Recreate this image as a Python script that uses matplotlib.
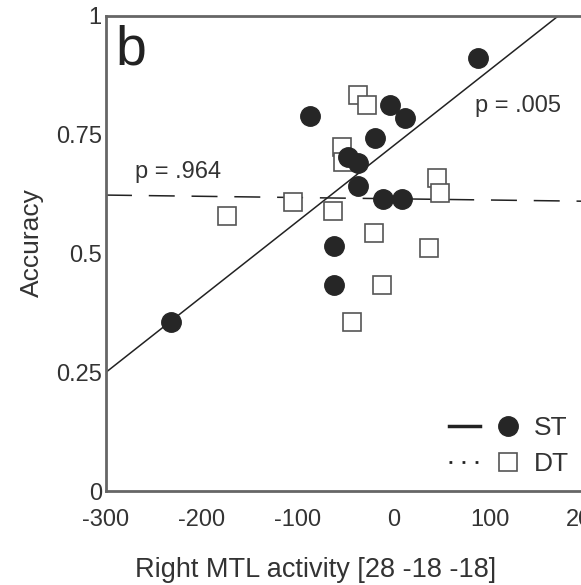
import matplotlib
matplotlib.use("Agg")
import matplotlib.pyplot as plt
from matplotlib.lines import Line2D
from matplotlib.legend_handler import HandlerTuple

plt.rcParams["font.family"] = ["Liberation Sans", "DejaVu Sans"]
plt.rcParams["axes.unicode_minus"] = False

# single task (ST) subjects: filled circles
st_x = [-232, 88, -87, -4, 11, -20, -48, -38, -38, -11, 8, -63, -63]
st_y = [0.356, 0.912, 0.79, 0.812, 0.785, 0.744, 0.704, 0.69, 0.643, 0.614, 0.614, 0.516, 0.434]

# dual task (DT) subjects: open squares
dt_x = [-174, -105, -64, -37, -28, -54, -53, -21, 36, -12, -44, 45, 48]
dt_y = [0.579, 0.608, 0.59, 0.834, 0.813, 0.724, 0.693, 0.543, 0.511, 0.434, 0.356, 0.66, 0.627]

# regression lines (end points)
st_fit_x = [-300, 171]
st_fit_y = [0.25, 1.0]
dt_fit_x = [-300, 200]
dt_fit_y = [0.623, 0.610]

x_ticks = [-300, -200, -100, 0, 100, 200]
y_ticks = [0, 0.25, 0.5, 0.75, 1]
y_ticklabels = ["0", "0.25", "0.5", "0.75", "1"]

text_col = "#333333"
spine_col = "#666666"
dot_col = "#262626"

W, H = 581, 585
fig = plt.figure(figsize=(W / 100, H / 100), dpi=100)
ax = fig.add_axes([106 / W, 94 / H, (586 - 106) / W, (491 - 16) / H])

ax.plot(st_fit_x, st_fit_y, color="#222222", lw=1.1, zorder=2)
ax.plot(dt_fit_x, dt_fit_y, color="#222222", lw=1.1, dashes=(17, 11), zorder=2)

ax.plot(dt_x, dt_y, ls="none", marker="s", ms=12.5, mfc="white", mec="#555555",
        mew=1.2, zorder=3)
ax.plot(st_x, st_y, ls="none", marker="o", ms=14, mfc=dot_col, mec=dot_col,
        zorder=4)

ax.set_xlim(-300, 200)
ax.set_ylim(0, 1)
ax.set_xticks(x_ticks)
ax.set_yticks(y_ticks)
ax.set_yticklabels(y_ticklabels)
ax.tick_params(length=0, labelsize=17, colors=text_col)
ax.tick_params(axis="x", pad=13)
ax.tick_params(axis="y", pad=3)

for s in ["left", "top", "bottom"]:
    ax.spines[s].set_color(spine_col)
    ax.spines[s].set_linewidth(2)
ax.spines["right"].set_visible(False)

ax.text(-290, 0.927, "b", fontsize=40, color="#222222", va="center", ha="left")
ax.text(-270, 0.672, "p = .964", fontsize=17, color=text_col, va="center")
ax.text(84, 0.81, "p = .005", fontsize=17, color=text_col, va="center")

fig.text(316 / W, 1 - 570 / H, "Right MTL activity [28 -18 -18]", fontsize=19.5,
         color=text_col, ha="center", va="center")
fig.text(32 / W, 1 - 243 / H, "Accuracy", fontsize=19, color=text_col,
         rotation=90, ha="center", va="center")

st_handle = (Line2D([], [], color="#222222", lw=2.5),
             Line2D([], [], ls="none", marker="o", ms=14, mfc=dot_col, mec=dot_col))
dt_handle = (Line2D([], [], color="#222222", lw=2, dashes=(1, 3.7)),
             Line2D([], [], ls="none", marker="s", ms=12.5, mfc="white", mec="#555555",
                    mew=1.2))
leg = ax.legend([st_handle, dt_handle], ["ST", "DT"],
                handler_map={tuple: HandlerTuple(ndivide=None, pad=0.5)},
                loc="lower right", bbox_to_anchor=(569 / W, 1 - 476 / H),
                bbox_transform=fig.transFigure, frameon=False, fontsize=19,
                handlelength=2.85, handletextpad=0.38, labelspacing=0.45,
                borderpad=0, borderaxespad=0)
for t in leg.get_texts():
    t.set_color(text_col)

fig.savefig("out.png", dpi=100)
